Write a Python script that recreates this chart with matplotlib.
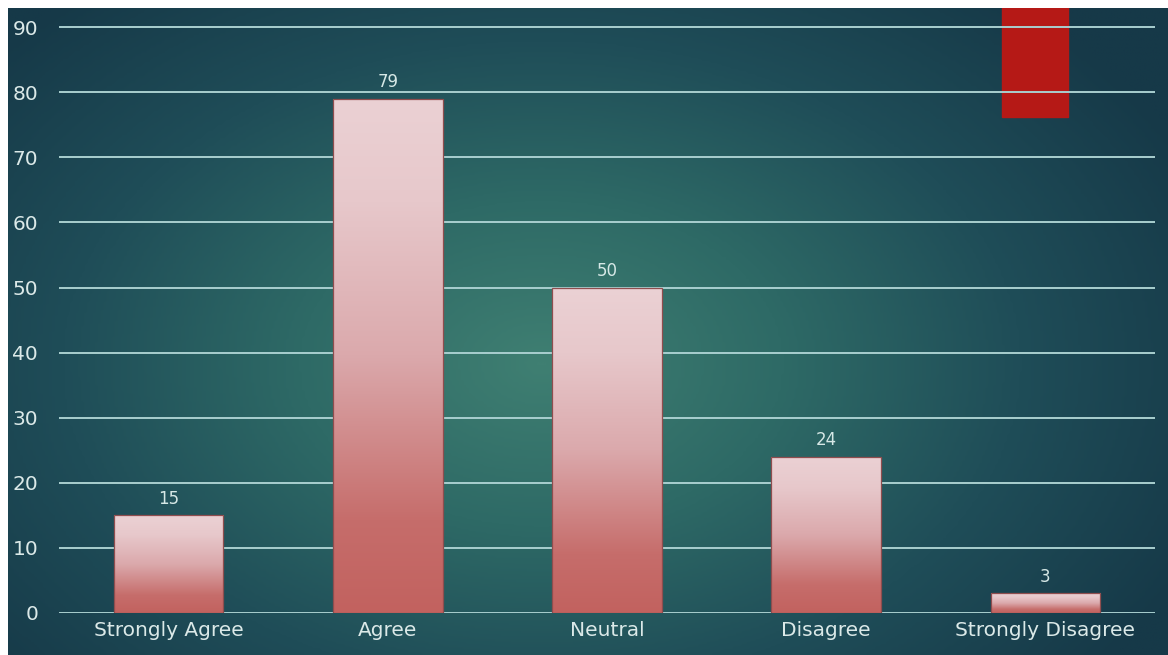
import numpy as np
import matplotlib.pyplot as plt
from matplotlib.colors import LinearSegmentedColormap
from matplotlib.patches import Rectangle

categories = ['Strongly Agree', 'Agree', 'Neutral', 'Disagree', 'Strongly Disagree']
counts = [15, 79, 50, 24, 3]
yticks = [0, 10, 20, 30, 40, 50, 60, 70, 80, 90]

W, H = 1168, 655
fig = plt.figure(figsize=(W / 100, H / 100), dpi=100, facecolor='white')
plt.rcParams['font.family'] = ['DejaVu Sans']

# slide background: radial teal glow
bg = fig.add_axes([8 / W, 0, 1 - 8 / W, 1 - 8 / H])
bg.set_axis_off()
gx, gy = np.meshgrid(np.linspace(0, 1, 400), np.linspace(0, 1, 240))
d = np.sqrt(((gx - 0.46) / 0.62) ** 2 + ((gy - 0.55) / 0.75) ** 2)
d = np.clip(d, 0, 1)
glow = LinearSegmentedColormap.from_list('glow', ['#3f7f72', '#2e6a66', '#1f4d58', '#163948'])
bg.imshow(d, cmap=glow, extent=(0, 1, 0, 1), aspect='auto', origin='upper')
bg.set_xlim(0, 1)
bg.set_ylim(0, 1)
# red accent block at the top edge
bg.add_patch(Rectangle((994 / 1160, (655 - 117) / 647), 66 / 1160, 1, color='#b51916', zorder=3))

ax = fig.add_axes([59 / W, (H - 613) / H, 1096 / W, 605 / H])
ax.set_facecolor('none')

for spine in ax.spines.values():
    spine.set_visible(False)
ax.set_yticks(yticks)
ax.grid(axis='y', color='#a9cfcf', linewidth=1.4, zorder=0)
ax.set_axisbelow(True)
ax.tick_params(axis='y', length=0, pad=15, labelsize=14.5, labelcolor='#dbe9e8')
ax.tick_params(axis='x', length=0, pad=6, labelsize=14.5, labelcolor='#dbe9e8')

x = np.arange(len(categories))
bars = ax.bar(x, counts, width=0.5, color='none', edgecolor='#8f4d4e', linewidth=0.9, zorder=3)
ax.set_xticks(x)
ax.set_xticklabels(categories)

fill = LinearSegmentedColormap.from_list(
    'fill', [(0, '#c2625f'), (0.18, '#c66d6b'), (0.5, '#dba9ac'), (0.8, '#e7c8cb'), (1, '#ebd1d4')])
grad = np.linspace(0, 1, 256).reshape(-1, 1)
for b, v in zip(bars, counts):
    x0 = b.get_x()
    im = ax.imshow(grad, cmap=fill, origin='lower', aspect='auto',
                   extent=(x0, x0 + b.get_width(), 0, v), zorder=2)
    im.set_clip_path(b)
    ax.text(b.get_x() + b.get_width() / 2, v + 1.2, str(v), ha='center', va='bottom',
            fontsize=12, color='#d6e8e6', zorder=4)

ax.set_xlim(-0.5, 4.5)
ax.set_ylim(0, 605 / 6.51)

fig.savefig('out.png', dpi=100, facecolor='white')
